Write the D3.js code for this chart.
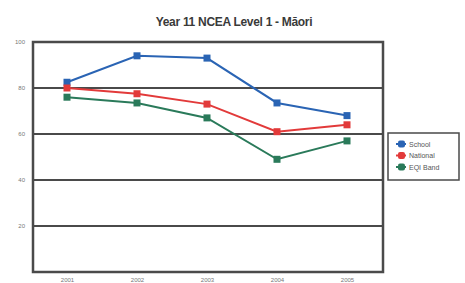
<!DOCTYPE html>
<html>
<head>
<meta charset="utf-8">
<script src="https://cdn.jsdelivr.net/npm/d3@7"></script>
<style>
  body { margin: 0; background: #fff; }
  svg { display: block; font-family: "Liberation Sans", Arial, sans-serif; }
</style>
</head>
<body>
<div id="chart"></div>
<script>
var years = ["2001", "2002", "2003", "2004", "2005"];
var yTicks = [20, 40, 60, 80, 100];
var seriesNames = ["School", "National", "EQI Band"];
var school = [82.5, 94, 93, 73.5, 68];
var national = [80, 77.5, 73, 61, 64];
var eqiBand = [76, 73.5, 67, 49, 57];
var colors = ["#2a64b4", "#e23a3a", "#2a7a5a"];

var width = 465, height = 283;
var plot = { left: 33, right: 383, top: 42, bottom: 272 };

var svg = d3.select("#chart").append("svg")
  .attr("width", width)
  .attr("height", height);

var x = d3.scalePoint()
  .domain(years)
  .range([plot.left + 34, plot.right - 36]);

var y = d3.scaleLinear()
  .domain([0, 100])
  .range([plot.bottom, plot.top]);

// title
svg.append("text")
  .attr("x", 234)
  .attr("y", 26)
  .attr("text-anchor", "middle")
  .style("font-size", "12px")
  .style("font-weight", "bold")
  .style("fill", "#3a3a3a")
  .style("letter-spacing", "-0.3px")
  .text("Year 11 NCEA Level 1 - Māori");

// gridlines
svg.append("g")
  .selectAll("line")
  .data(yTicks.slice(0, -1))
  .enter().append("line")
  .attr("x1", plot.left)
  .attr("x2", plot.right)
  .attr("y1", function(d) { return y(d); })
  .attr("y2", function(d) { return y(d); })
  .style("stroke", "#4a4a4a")
  .style("stroke-width", 2);

// frame
svg.append("rect")
  .attr("x", plot.left)
  .attr("y", plot.top)
  .attr("width", plot.right - plot.left)
  .attr("height", plot.bottom - plot.top)
  .style("fill", "none")
  .style("stroke", "#4a4a4a")
  .style("stroke-width", 2.5);

// y axis labels
var yAxis = d3.axisLeft(y).tickValues(yTicks).tickSize(0).tickPadding(8);
var yg = svg.append("g")
  .attr("transform", "translate(" + plot.left + ",0)")
  .call(yAxis);
yg.select(".domain").remove();
yg.selectAll("text")
  .style("font-size", "6px")
  .style("fill", "#777")
  .style("font-family", "Liberation Sans, Arial, sans-serif");

// x axis labels
var xAxis = d3.axisBottom(x).tickSize(0).tickPadding(6);
var xg = svg.append("g")
  .attr("transform", "translate(0," + plot.bottom + ")")
  .call(xAxis);
xg.select(".domain").remove();
xg.selectAll("text")
  .style("font-size", "6px")
  .style("fill", "#777")
  .style("font-family", "Liberation Sans, Arial, sans-serif");

var allSeries = [school, national, eqiBand];

var line = d3.line()
  .x(function(d, i) { return x(years[i]); })
  .y(function(d) { return y(d); });

allSeries.forEach(function(values, s) {
  var g = svg.append("g");
  g.append("path")
    .datum(values)
    .attr("d", line)
    .style("fill", "none")
    .style("stroke", colors[s])
    .style("stroke-width", 2);
  g.selectAll("rect")
    .data(values)
    .enter().append("rect")
    .attr("x", function(d, i) { return x(years[i]) - 3.5; })
    .attr("y", function(d) { return y(d) - 3.5; })
    .attr("width", 7)
    .attr("height", 7)
    .style("fill", colors[s]);
});

// legend
var legend = svg.append("g").attr("transform", "translate(388,133)");
legend.append("rect")
  .attr("width", 71)
  .attr("height", 47)
  .style("fill", "#fff")
  .style("stroke", "#4a4a4a")
  .style("stroke-width", 1.5);

var item = legend.selectAll(".legend")
  .data(seriesNames)
  .enter().append("g")
  .attr("class", "legend")
  .attr("transform", function(d, i) { return "translate(8," + (11 + i * 11.5) + ")"; });

item.append("line")
  .attr("x1", 0).attr("x2", 10)
  .style("stroke", function(d, i) { return colors[i]; })
  .style("stroke-width", 2);
item.append("rect")
  .attr("x", 2).attr("y", -3.5)
  .attr("width", 7).attr("height", 7)
  .attr("rx", 2)
  .style("fill", function(d, i) { return colors[i]; });
item.append("text")
  .attr("x", 13)
  .attr("y", 2.5)
  .style("font-size", "7px")
  .style("fill", "#555")
  .text(function(d) { return d; });
</script>
</body>
</html>
